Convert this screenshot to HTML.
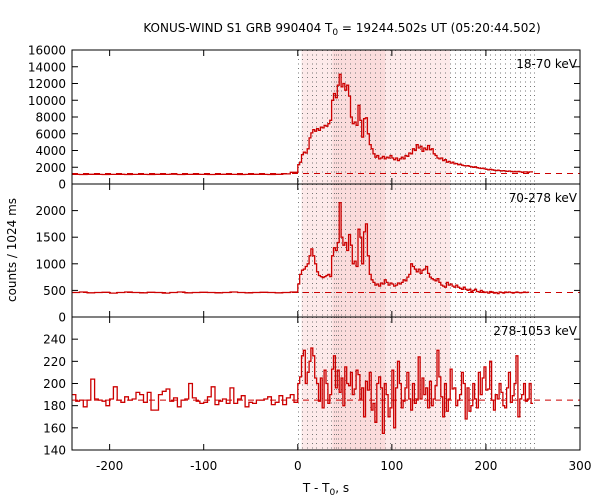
<!DOCTYPE html>
<html><head><meta charset="utf-8"><style>
body{margin:0;background:#fff}
svg{display:block;font-family:"DejaVu Sans","Liberation Sans",sans-serif}
</style></head><body>
<svg id="chart" width="600" height="500" viewBox="0 0 600 500">
<text x="342" y="32" font-size="12" text-anchor="middle">KONUS-WIND S1 GRB 990404 T<tspan font-size="9" dy="3">0</tspan><tspan dy="-3"> = 19244.502s UT (05:20:44.502)</tspan></text>
<text x="0" y="0" font-size="12" text-anchor="middle" transform="translate(16,250) rotate(-90)">counts / 1024 ms</text>
<text x="326" y="492" font-size="12" text-anchor="middle">T - T<tspan font-size="9" dy="3">0</tspan><tspan dy="-3">, s</tspan></text>
</svg>
<script>
// ---- data ----
const xTicks=[-200,-100,0,100,200,300];
const panelLabels=["18-70 keV","70-278 keV","278-1053 keV"];
const p1Ticks=[0,2000,4000,6000,8000,10000,12000,14000,16000];
const p2Ticks=[0,500,1000,1500,2000];
const p3Ticks=[140,160,180,200,220,240];
const backgrounds=[1250,460,185];
const preStep1=8, postStep=2, preStep3=4;
const p1Pre=[1150,1140,1160,1150,1130,1150,1160,1140,1150,1150,1140,1160,1150,1170,1140,1150,1160,1150,1140,1150,1160,1150,1140,1150,1160,1150,1140,1160,1200,1400];
const p1Post=[2300,2600,3500,3800,3700,4200,
5500,6100,6500,6300,6600,6400,6800,6700,7000,6900,7200,7600,
10000,10800,10300,11800,13100,11600,12000,11200,11800,10500,8000,7200,7400,7000,9400,7600,5600,7800,7900,6000,4700,4200,3600,3200,3400,3000,3100,3300,3000,3200,3100,3400,3100,2900,3100,2800,3000,3200,3000,3400,3300,3700,3600,4200,4000,4700,4300,4500,3900,4300,4100,4600,4100,4200,3600,3400,3100,3000,3100,2800,2900,2600,2700,
2500,2600,2400,2450,2300,2350,2250,2200,2150,2200,2100,2050,2000,2050,1950,1900,1850,1900,1800,1750,1700,1750,1700,1650,1600,1650,1600,1550,1600,1550,1500,1550,1500,1450,1500,1450,1500,1450,1400,1450,1450,1400,1450,1450];
const p2Pre=[460,470,455,460,465,450,460,470,460,455,465,460,450,460,470,455,460,465,460,455,460,470,460,455,460,465,460,455,460,470];
const p2Post=[620,800,880,900,950,1000,
1150,1280,1150,1000,850,780,760,740,760,780,800,760,
1150,1300,1250,1400,2150,1500,1350,1400,1250,1550,1350,1000,1050,950,1650,1500,1000,1600,1750,1150,800,700,650,600,620,580,640,620,700,650,600,640,620,580,600,640,620,650,700,680,750,800,1000,950,900,850,900,820,880,900,950,820,750,720,700,680,720,650,600,580,560,
650,600,620,580,560,600,560,540,520,560,520,500,520,480,500,520,480,470,500,480,460,470,450,480,470,450,460,440,470,460,450,470,460,470,460,450,460,470,460,455,460,470,460,465];
const p3Pre=[190,184,185,179,185,204,186,185,184,180,186,197,185,183,188,185,186,192,190,183,192,176,176,190,193,195,184,187,179,185,186,200,187,184,182,183,188,197,181,184,186,182,196,182,186,189,179,183,182,185,185,186,188,181,183,189,181,187,190,183];
const p3Post=[200,206,225,230,200,210,220,232,225,205,200,184,205,178,212,200,182,190,213,225,196,212,192,205,180,215,200,198,210,190,195,212,208,186,196,170,202,194,210,176,182,165,200,206,196,155,200,190,170,178,212,160,196,220,200,178,184,196,210,186,176,200,182,186,224,186,205,190,196,178,202,180,186,198,230,206,188,170,200,175,186,213,195,196,180,185,190,210,200,168,196,175,180,200,186,178,210,190,205,215,194,195,220,185,176,190,186,200,192,180,178,196,210,183,189,200,225,170,186,190,200,184,186,200,182];
const dotTimes=[0,4.2,9.6,14.9,19.5,25.5,30.8,35.4,38.2,40.7,43.2,46,50.6,55.9,61.2,66.5,71.8,77.1,82.4,87.7,93,98.3,103.6,108.9,114.2,119.5,124.8,130.1,135.4,140.7,146,151.3,156.6,161.9,167.2,172.5,177.8,183.1,188.4,193.7,199,204.3,209.6,214.9,220.2,225.5,230.8,236.1,241.4,246.7,251];
const lightSpan=[4,162], darkSpan=[37,93];

// ---- layout ----
const NS="http://www.w3.org/2000/svg";
const svg=document.getElementById('chart');
const L=72,R=580,XMIN=-240,XMAX=300;
const X=t=>L+(t-XMIN)/(XMAX-XMIN)*(R-L);
const panels=[
 {top:50,bot:184,min:0,max:16000,ticks:p1Ticks,pre:p1Pre,preStep:preStep1,post:p1Post},
 {top:184,bot:317,min:0,max:2500,ticks:p2Ticks,pre:p2Pre,preStep:preStep1,post:p2Post},
 {top:317,bot:450,min:140,max:260,ticks:p3Ticks,pre:p3Pre,preStep:preStep3,post:p3Post}
];
function mk(tag,attrs,parent){const e=document.createElementNS(NS,tag);for(const k in attrs)e.setAttribute(k,attrs[k]);(parent||svg).appendChild(e);return e;}

panels.forEach((p,pi)=>{
 const Y=v=>p.bot-(v-p.min)/(p.max-p.min)*(p.bot-p.top);
 const g=mk('g',{});
 
 
 const lr=mk('rect',{x:X(lightSpan[0]),y:p.top,width:X(lightSpan[1])-X(lightSpan[0]),height:p.bot-p.top,fill:'#fdeaea'},g);
 
 
 const dr=mk('rect',{x:X(darkSpan[0]),y:p.top,width:X(darkSpan[1])-X(darkSpan[0]),height:p.bot-p.top,fill:'#fbdcdc'},g);
 
 
 dotTimes.forEach(t=>{
  const xx=Math.round(X(t))+0.5;
  const l=mk('line',{x1:xx,x2:xx,y1:p.top,y2:p.bot,stroke:'#777','stroke-width':1,'stroke-dasharray':'1,3.5'},g);
  
  
 });
 const bl=mk('line',{x1:L,x2:R,y1:Y(backgrounds[pi]),y2:Y(backgrounds[pi]),stroke:'#cc0000','stroke-width':1,'stroke-dasharray':'6,5'},g);
 
 
 let d='';
 const n0=p.pre.length;
 p.pre.forEach((v,i)=>{const t0=-n0*p.preStep+i*p.preStep;d+=(i?'H'+X(t0).toFixed(1)+'V':'M'+X(t0).toFixed(1)+' ')+Y(v).toFixed(1);d+='H'+X(t0+p.preStep).toFixed(1);});
 p.post.forEach((v,i)=>{const t0=i*postStep;d+='V'+Y(v).toFixed(1)+'H'+X(t0+postStep).toFixed(1);});
 const c=mk('path',{d:d,fill:'none',stroke:'#cc0000','stroke-width':1.3},g);
 
 
 const fr=mk('rect',{x:L,y:p.top,width:R-L,height:p.bot-p.top,fill:'none',stroke:'#000','stroke-width':1},g);
 
 
 p.ticks.forEach(v=>{
  const y=Y(v);
  mk('line',{x1:L,x2:L+6,y1:y,y2:y,stroke:'#000'},g);
  mk('line',{x1:R-6,x2:R,y1:y,y2:y,stroke:'#000'},g);
  const tx=mk('text',{x:L-6,y:y+4.5,'font-size':12,'text-anchor':'end'},g);
  tx.textContent=v;
  
  
 });
 xTicks.forEach(t=>{
  mk('line',{x1:X(t),x2:X(t),y1:p.bot,y2:p.bot-6,stroke:'#000'},g);
  mk('line',{x1:X(t),x2:X(t),y1:p.top,y2:p.top+6,stroke:'#000'},g);
 });
 const lb=mk('text',{x:R-3,y:p.top+18,'font-size':12,'text-anchor':'end'},g);
 lb.textContent=panelLabels[pi];
 
 
});
xTicks.forEach(t=>{
 const tx=mk('text',{x:X(t),y:470,'font-size':12,'text-anchor':'middle'});
 tx.textContent=t;
 
 
});
</script>
</body></html>
